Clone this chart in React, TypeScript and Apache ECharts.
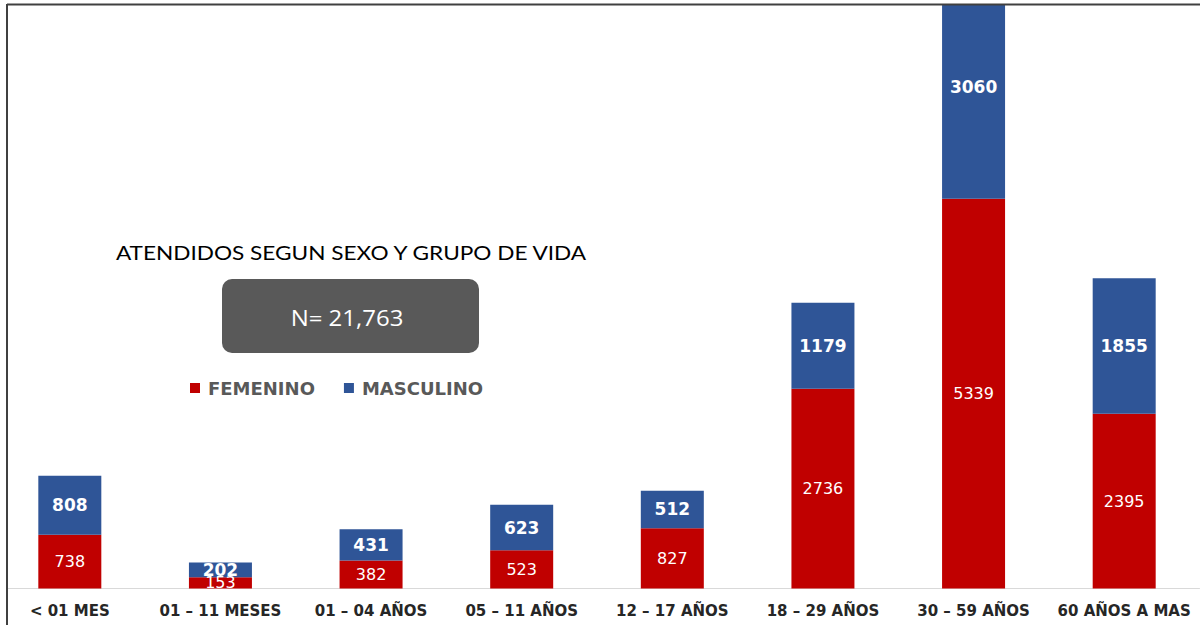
import React, { useEffect, useRef } from "react";
import * as echarts from "echarts";

const categories = [
  "< 01 MES",
  "01 – 11 MESES",
  "01 – 04 AÑOS",
  "05 – 11 AÑOS",
  "12 – 17 AÑOS",
  "18 – 29 AÑOS",
  "30 – 59 AÑOS",
  "60 AÑOS A MAS",
];
const femenino = [738, 153, 382, 523, 827, 2736, 5339, 2395];
const masculino = [808, 202, 431, 623, 512, 1179, 3060, 1855];
const titleText = "ATENDIDOS SEGUN SEXO Y GRUPO DE VIDA";
const totalText = "N= 21,763";

const WIDE = "'DejaVu Sans', Verdana, sans-serif";
const LATO = "Lato, 'Open Sans', sans-serif";
const OPEN = "'Open Sans', Lato, sans-serif";
const OX = 6; // div is shifted left by OX px

export default function App() {
  const ref = useRef<HTMLDivElement>(null);
  useEffect(() => {
    if (!ref.current) return;
    const chart = echarts.init(ref.current, undefined, { renderer: "svg" });
    chart.setOption({
      animation: false,
      backgroundColor: "#ffffff",
      grid: { left: 0.5, right: 0.5, top: 4.5, bottom: 36.5, containLabel: false },
      legend: {
        left: 190 + OX,
        top: 379,
        padding: 0,
        icon: "rect",
        itemWidth: 10,
        itemHeight: 10,
        itemGap: 29,
        textStyle: {
          fontFamily: WIDE,
          fontSize: 18,
          fontWeight: "bold",
          color: "#595959",
          padding: [0, 0, 0, 3],
        },
        data: ["FEMENINO", "MASCULINO"],
      },
      xAxis: {
        type: "category",
        data: categories,
        axisLine: { show: true, lineStyle: { color: "#d9d9d9", width: 1 } },
        axisTick: { show: false },
        axisLabel: {
          fontFamily: WIDE,
          fontSize: 15,
          fontWeight: "bold",
          color: "#262626",
          margin: 15,
          interval: 0,
        },
      },
      yAxis: {
        type: "value",
        min: 0,
        max: 8000,
        show: false,
        splitLine: { show: false },
      },
      series: [
        {
          name: "FEMENINO",
          type: "bar",
          stack: "total",
          clip: false,
          barWidth: 63,
          data: femenino,
          itemStyle: { color: "#C00000" },
          label: {
            show: true,
            position: "inside",
            color: "#ffffff",
            fontFamily: WIDE,
            fontSize: 16,
          },
        },
        {
          name: "MASCULINO",
          type: "bar",
          stack: "total",
          clip: false,
          barWidth: 63,
          data: masculino,
          itemStyle: { color: "#2F5597" },
          label: {
            show: true,
            position: "inside",
            color: "#ffffff",
            fontFamily: WIDE,
            fontSize: 17,
            fontWeight: "bold",
          },
        },
      ],
      graphic: [
        { type: "rect", z: 100, shape: { x: 0, y: 0, width: 1210, height: 4 }, style: { fill: "#ffffff" } },
        { type: "rect", z: 100, shape: { x: 0, y: 0, width: 6 + OX, height: 625 }, style: { fill: "#ffffff" } },
        { type: "rect", z: 100, shape: { x: 8 + OX, y: 589.5, width: 1200, height: 8 }, style: { fill: "#ffffff" } },
        { type: "line", z: 101, shape: { x1: 7 + OX, y1: 4.5, x2: 1210, y2: 4.5 }, style: { stroke: "#404040", lineWidth: 2 } },
        { type: "line", z: 101, shape: { x1: 7 + OX, y1: 4, x2: 7 + OX, y2: 625 }, style: { stroke: "#404040", lineWidth: 2 } },
        {
          type: "text",
          z: 101,
          x: 351 + OX,
          y: 252,
          scaleX: 1.19,
          style: {
            text: titleText,
            fontFamily: LATO,
            fontSize: 19,
            fill: "#000000",
            align: "center",
            verticalAlign: "middle",
          },
        },
        {
          type: "rect",
          z: 101,
          shape: { x: 222 + OX, y: 279, width: 257, height: 74, r: 10 },
          style: { fill: "#595959" },
        },
        {
          type: "text",
          z: 102,
          x: 347 + OX,
          y: 317,
          scaleX: 1.09,
          style: {
            text: totalText,
            fontFamily: OPEN,
            fontSize: 22,
            fill: "#ffffff",
            align: "center",
            verticalAlign: "middle",
          },
        },
      ],
    });
    return () => chart.dispose();
  }, []);
  return (
    <div
      ref={ref}
      style={{ position: "absolute", left: -OX, top: 0, width: 1200 + OX, height: 625 }}
    />
  );
}
